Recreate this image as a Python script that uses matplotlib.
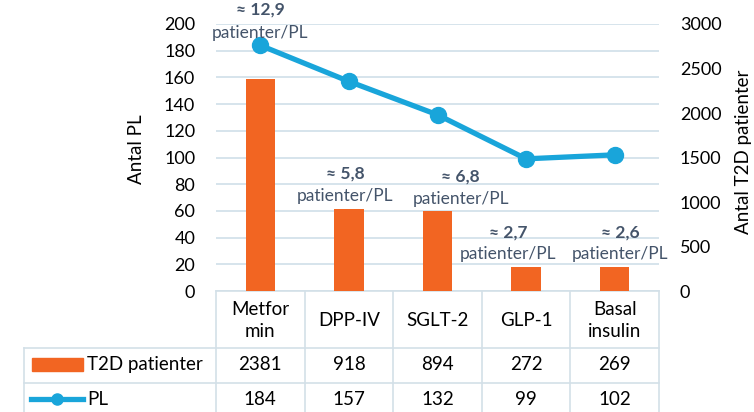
import numpy as np
import matplotlib
matplotlib.use("Agg")
import matplotlib.pyplot as plt
import matplotlib.transforms as mtransforms
from matplotlib.patches import Rectangle

categories = ["Metfor\nmin", "DPP-IV", "SGLT-2", "GLP-1", "Basal\ninsulin"]
t2d_patients = [2381, 918, 894, 272, 269]
pl_counts = [184, 157, 132, 99, 102]
# where the ratio labels sit: x shift in categories, y in "Antal PL" units
label_dx = [0, -0.045, 0.26, -0.2, 0.06]
label_bold_y = [211, 88, 86, 44, 44]
label_text_y = [193, 71, 69, 28, 28]

ORANGE = "#F26522"
BLUE = "#19A5DA"
GRID = "#D6E4EC"
TEXT = "#44546A"
FS = 13.5

plt.rcParams['font.family'] = ['Lato', 'DejaVu Sans']

W, H = 754, 412
fig = plt.figure(figsize=(W / 100, H / 100), dpi=100)
ax = fig.add_axes([216 / W, 1 - 291 / H, 443 / W, 267 / H])
ax2 = ax.twinx()

x = np.arange(len(categories))

ax.grid(axis='y', color=GRID, lw=1.4)
ax.plot(x, pl_counts, color=BLUE, lw=3.8, marker='o', ms=11.5, zorder=3)
ax2.bar(x, t2d_patients, width=0.33, color=ORANGE)

ax.set_xlim(-0.5, len(categories) - 0.5)
ax.set_ylim(0, 200)
ax.set_yticks(range(0, 201, 20))
ax2.set_ylim(0, 3000)
ax2.set_yticks(range(0, 3001, 500))
ax.set_xticks([])

for a in (ax, ax2):
    for s in a.spines.values():
        s.set_visible(False)
ax.tick_params(axis='y', length=0, pad=15, labelsize=13)
ax2.tick_params(axis='y', length=0, pad=15, labelsize=13)

fig.text(136 / W, 1 - 149 / H, "Antal PL", rotation=90, ha='center',
         va='center', fontsize=FS)
fig.text(743 / W, 1 - 152 / H, "Antal T2D patienter", rotation=90,
         ha='center', va='center', fontsize=FS)

# ratio labels
for i, (t, p) in enumerate(zip(t2d_patients, pl_counts)):
    ratio = f"≈ {t / p:.1f}".replace(".", ",")
    ax.text(i + label_dx[i], label_bold_y[i], ratio, ha='center', va='center',
            fontsize=12.5, fontweight='bold', color=TEXT, clip_on=False)
    ax.text(i + label_dx[i], label_text_y[i], "patienter/PL", ha='center',
            va='center', fontsize=12.5, color=TEXT, clip_on=False)

# data table below the plot
tr = mtransforms.blended_transform_factory(ax.transData, ax.transAxes)
n = len(categories)
y_top, y_head, y_row1, y_bot = 0, -0.2135, -0.345, -0.46
x_leg = -2.667
lc = "#D3E0E8"

def tline(xs, ys):
    ax.plot(xs, ys, color=lc, lw=1.2, transform=tr, clip_on=False)

tline([-0.5, n - 0.5], [y_top, y_top])
tline([x_leg, n - 0.5], [y_head, y_head])
tline([x_leg, n - 0.5], [y_row1, y_row1])
for k in range(n + 1):
    tline([k - 0.5, k - 0.5], [y_top, y_bot])
tline([x_leg, x_leg], [y_head, y_bot])

for i, c in enumerate(categories):
    ax.text(i, -0.109, c, ha='center', va='center', fontsize=FS,
            transform=tr, linespacing=1.35)
    ax.text(i, -0.277, str(t2d_patients[i]), ha='center', va='center',
            fontsize=FS, transform=tr)
    ax.text(i, -0.408, str(pl_counts[i]), ha='center', va='center',
            fontsize=FS, transform=tr)

ax.add_patch(Rectangle((-2.577, -0.300), 0.577, 0.049, color=ORANGE,
                       transform=tr, clip_on=False))
ax.text(-1.955, -0.277, "T2D patienter", ha='left', va='center',
        fontsize=FS, transform=tr)
ax.plot([-2.59, -2.0], [-0.404, -0.404], color=BLUE, lw=3.8, transform=tr,
        clip_on=False)
ax.plot([-2.295], [-0.404], color=BLUE, marker='o', ms=8, transform=tr,
        clip_on=False)
ax.text(-1.955, -0.408, "PL", ha='left', va='center', fontsize=FS,
        transform=tr)

fig.savefig("out.png", dpi=100)
